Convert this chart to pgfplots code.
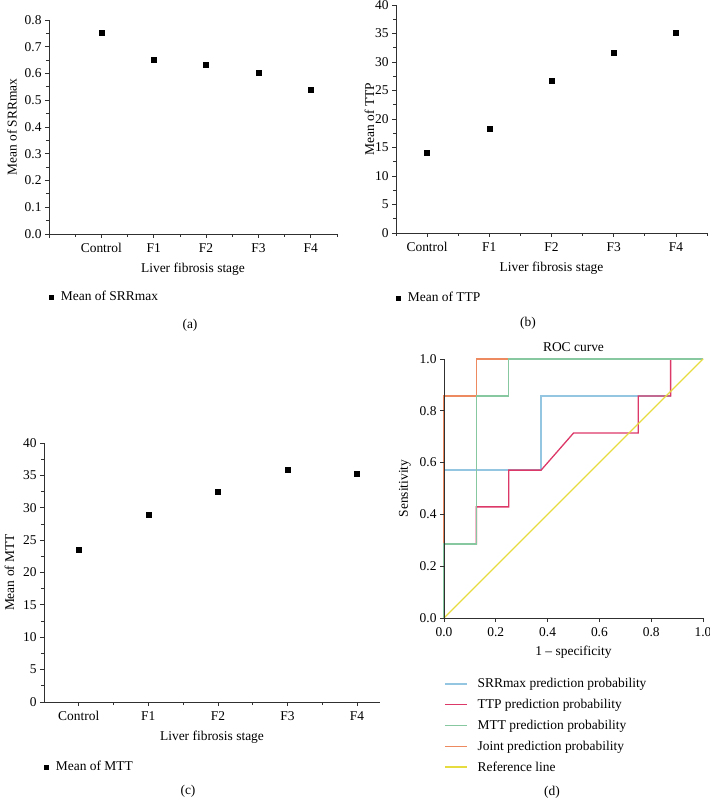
\documentclass[border=0pt]{standalone}
\usepackage{fontspec}
\setmainfont{Liberation Serif}
\usepackage{pgfplots}
\pgfplotsset{compat=1.18}
\definecolor{cSRR}{HTML}{94C6E2}
\definecolor{cTTP}{HTML}{DC3868}
\definecolor{cMTT}{HTML}{88C8A0}
\definecolor{cJNT}{HTML}{EE8A60}
\definecolor{cREF}{HTML}{E6DC40}
\definecolor{axc}{HTML}{303030}
\newcommand{\fs}{\fontsize{13.5}{16}\selectfont}
\pgfplotsset{
  panel/.style={
    scale only axis,
    axis x line*=bottom, axis y line*=left,
    axis line style={axc, line width=0.9bp},
    tick style={axc, line width=0.8bp},
    tick align=outside,
    major tick length=4bp, minor tick length=3bp,
    font=\fs,
    /pgf/number format/assume math mode=true,
    ticklabel style={font=\fs},
    xticklabel style={yshift=-2bp},
    xlabel style={yshift=-3bp},
    clip=false,
  },
  catpanel/.style={
    panel,
    xtick={0,1,2,3,4},
    xticklabels={Control,F1,F2,F3,F4},
    minor xtick={-0.5,0.5,1.5,2.5,3.5,4.5},
    minor y tick num=1,
    xlabel={Liver fibrosis stage},
    legend style={draw=none, fill=none, inner sep=0pt, anchor=west,
      font=\fs, /tikz/every odd column/.append style={column sep=5.5bp}},
    legend image code/.code={\fill[black] (0bp,-1.9bp) rectangle (3.8bp,1.9bp);},
  },
  rocleg/.style={legend image code/.code={\draw[##1] (0bp,0bp) -- (22bp,0bp);}},
  sq/.style={only marks, mark=square*, mark size=2.5bp, black},
  onedec/.style={/pgf/number format/fixed, /pgf/number format/fixed zerofill, /pgf/number format/precision=1},
}
\begin{document}
\begin{tikzpicture}
\useasboundingbox (0bp,0bp) rectangle (710bp,810bp);
% (a)
\begin{axis}[catpanel, at={(49bp,576bp)}, anchor=south west,
  width=288bp, height=214bp,
  xmin=-1, xmax=4.5, ymin=0, ymax=0.8,
  xtick={-1,0,1,2,3,4}, xticklabels={{},Control,F1,F2,F3,F4},
  minor xtick={-0.5,0.5,1.5,2.5,3.5,4.5},
  ytick={0,0.1,...,0.81},
  yticklabel style={onedec},
  ylabel={Mean of SRRmax},
  ylabel style={yshift=1bp},
  legend style={at={(axis description cs:0,-0.294)}},
]
\addplot[sq] coordinates {(0,0.754) (1,0.650) (2,0.634) (3,0.604) (4,0.538)};
\addlegendentry{Mean of SRRmax}
\end{axis}
\node at (190bp,485bp) {\fs (a)};
% (b)
\begin{axis}[catpanel, at={(396bp,577bp)}, anchor=south west,
  width=311bp, height=228bp,
  xmin=-0.5, xmax=4.5, ymin=0, ymax=40,
  ytick={0,5,...,40},
  ylabel={Mean of TTP},
  ylabel style={yshift=-6bp},
  legend style={at={(axis description cs:0,-0.285)}},
]
\addplot[sq] coordinates {(0,14.07) (1,18.34) (2,26.69) (3,31.65) (4,35.15)};
\addlegendentry{Mean of TTP}
\end{axis}
\node at (528bp,487bp) {\fs (b)};
% (c)
\begin{axis}[catpanel, at={(44bp,108bp)}, anchor=south west,
  width=336bp, height=259bp,
  xmin=-0.5, xmax=4.33, ymin=0, ymax=40,
  minor xtick={0.5,1.5,2.5,3.5},
  ytick={0,5,...,40},
  ylabel={Mean of MTT},
  ylabel style={yshift=2bp},
  legend style={at={(axis description cs:0,-0.251)}},
]
\addplot[sq] coordinates {(0,23.47) (1,28.98) (2,32.54) (3,35.88) (4,35.21)};
\addlegendentry{Mean of MTT}
\end{axis}
\node at (188bp,19bp) {\fs (c)};
% (d)
\begin{axis}[panel, rocleg, at={(444bp,192bp)}, anchor=south west,
  width=259bp, height=259bp,
  xmin=0, xmax=1, ymin=0, ymax=1,
  xtick={0,0.2,...,1.01}, ytick={0,0.2,...,1.01},
  xticklabel style={onedec}, yticklabel style={onedec},
  axis on top,
  title={ROC curve},
  title style={yshift=-2bp},
  xlabel={1 – specificity},
  ylabel={Sensitivity},
  ylabel style={yshift=2bp},
  legend style={draw=none, fill=none, inner sep=0pt,
    at={(axis description cs:0,-0.225)}, anchor=north west,
    font=\fs, row sep=6bp,
    /tikz/every odd column/.append style={column sep=8bp}},
  legend cell align=left,
]
\addplot[cSRR, line width=1.3bp, forget plot] coordinates {(0,0) (0,0.571) (0.375,0.571) (0.375,0.857) (0.875,0.857) (0.875,1) (1,1)};
\addplot[cTTP, line width=1.3bp, forget plot] coordinates {(0,0) (0,0.286) (0.125,0.286) (0.125,0.429) (0.25,0.429) (0.25,0.571) (0.375,0.571) (0.5,0.714) (0.75,0.714) (0.75,0.857) (0.875,0.857) (0.875,1) (1,1)};
\addplot[cJNT, line width=1.3bp, forget plot] coordinates {(0,0) (0,0.857) (0.125,0.857) (0.125,1) (1,1)};
\addplot[cMTT, line width=1.3bp, forget plot] coordinates {(0,0) (0,0.286) (0.125,0.286) (0.125,0.857) (0.25,0.857) (0.25,1) (1,1)};
\addplot[cREF, line width=1.3bp, forget plot] coordinates {(0,0) (1,1)};
\addlegendimage{cSRR, line width=1.4bp}
\addlegendentry{SRRmax prediction probability}
\addlegendimage{cTTP, line width=1.4bp}
\addlegendentry{TTP prediction probability}
\addlegendimage{cMTT, line width=1.4bp}
\addlegendentry{MTT prediction probability}
\addlegendimage{cJNT, line width=1.4bp}
\addlegendentry{Joint prediction probability}
\addlegendimage{cREF, line width=1.4bp}
\addlegendentry{Reference line}
\end{axis}
\node at (552bp,18bp) {\fs (d)};
\end{tikzpicture}
\end{document}
